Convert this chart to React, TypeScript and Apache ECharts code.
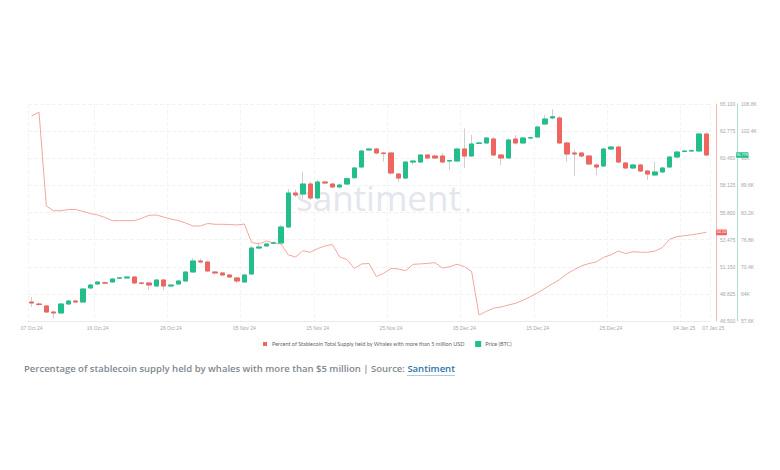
import React, { useEffect, useRef } from "react";
import * as echarts from "echarts";

// BTC daily candles (thousand USD), 07 Oct 2024 .. 07 Jan 2025
const priceOpen = [62.08, 61.61, 61.14, 59.72, 59.49, 61.61, 62.32, 62.08, 65.39, 66.33, 66.6, 66.8, 67.7, 67.75, 67.98, 66.57, 66.57, 65.86, 67.27, 65.86, 66.33, 67.04, 69.16, 71.76, 71.52, 69.16, 68.93, 68.45, 67.75, 66.8, 68.69, 74.82, 75.3, 75.95, 76.0, 79.78, 87.8, 87.56, 89.92, 86.62, 90.4, 89.92, 89.22, 89.92, 91.41, 93.93, 97.95, 98.18, 97.24, 97.24, 92.28, 91.33, 95.11, 95.11, 96.77, 96.53, 96.53, 95.35, 95.35, 98.18, 96.53, 99.5, 99.6, 100.54, 96.77, 96.06, 100.54, 99.6, 100.78, 101.01, 104.08, 105.5, 105.5, 99.6, 97.24, 97.24, 96.53, 94.41, 94.17, 98.18, 98.65, 94.88, 93.7, 94.41, 92.99, 92.05, 92.76, 93.93, 96.29, 97.6, 97.71, 97.71, 101.72];
const priceClose = [61.85, 61.49, 59.72, 59.49, 61.61, 62.32, 62.08, 65.15, 66.09, 66.8, 66.55, 67.51, 67.78, 67.98, 66.57, 66.5, 66.09, 67.27, 65.86, 66.09, 67.04, 69.16, 71.76, 71.52, 69.4, 68.93, 68.45, 67.98, 67.04, 68.45, 74.82, 75.06, 75.77, 76.05, 79.78, 87.8, 87.33, 89.92, 86.62, 90.4, 90.16, 89.22, 89.69, 91.17, 93.7, 97.71, 98.18, 97.24, 97.1, 92.52, 91.33, 95.11, 95.35, 96.77, 96.06, 96.06, 95.11, 95.45, 98.18, 96.53, 99.36, 99.6, 100.78, 96.77, 96.06, 100.31, 99.6, 100.78, 100.85, 103.37, 105.26, 105.8, 99.6, 97.0, 97.0, 96.53, 94.64, 93.93, 98.18, 98.65, 95.11, 93.7, 94.41, 92.99, 92.28, 92.76, 93.7, 96.29, 97.47, 97.71, 97.8, 101.72, 96.77];
const priceLow = [60.9, 61.14, 59.49, 58.31, 59.25, 61.4, 61.8, 61.9, 65.2, 66.1, 66.3, 66.6, 67.5, 67.6, 66.3, 66.2, 64.9, 65.6, 64.9, 65.7, 66.1, 66.8, 69.0, 71.2, 69.1, 68.6, 68.2, 67.7, 66.57, 66.6, 68.5, 74.5, 75.1, 75.7, 75.8, 79.5, 86.8, 86.5, 86.2, 86.2, 89.9, 88.9, 89.0, 89.7, 91.2, 93.7, 97.7, 96.9, 95.2, 92.1, 90.47, 91.0, 94.41, 94.9, 95.8, 95.8, 94.9, 93.23, 95.1, 93.7, 96.3, 99.3, 99.4, 96.5, 94.41, 95.8, 99.2, 99.4, 100.5, 100.8, 103.8, 105.2, 99.3, 95.19, 91.81, 96.2, 94.4, 92.05, 93.9, 97.9, 94.8, 93.4, 93.4, 92.7, 90.87, 91.8, 92.5, 93.7, 96.0, 97.4, 97.5, 97.5, 96.5];
const priceHigh = [63.26, 61.96, 61.38, 59.96, 61.85, 62.6, 62.6, 65.4, 66.4, 67.0, 66.9, 67.8, 68.0, 68.2, 68.2, 66.8, 66.8, 67.5, 67.5, 66.3, 67.3, 69.4, 72.46, 72.4, 71.8, 69.4, 69.2, 68.7, 68.0, 68.8, 75.3, 76.2, 76.0, 76.4, 80.25, 88.75, 88.6, 92.83, 90.5, 90.87, 90.7, 90.2, 89.9, 91.5, 94.0, 98.0, 98.5, 98.5, 97.5, 97.5, 92.5, 95.4, 95.6, 97.0, 97.0, 96.8, 97.24, 95.6, 98.5, 103.07, 101.48, 99.9, 101.0, 101.0, 97.0, 100.6, 101.48, 101.0, 101.1, 103.6, 106.2, 107.55, 106.0, 99.9, 98.0, 97.5, 96.8, 94.7, 98.5, 98.9, 99.0, 95.2, 94.7, 94.7, 93.3, 95.19, 94.0, 96.6, 97.8, 98.0, 98.1, 102.0, 102.0];

// Percent of stablecoin supply held by whales (> 5M USD)
const whalePct = [64.07, 64.41, 56.36, 55.95, 55.95, 56.06, 56.06, 55.89, 55.71, 55.59, 55.37, 55.1, 55.1, 55.1, 55.1, 55.3, 55.56, 55.59, 55.41, 55.24, 55.11, 54.9, 54.64, 54.64, 54.86, 54.79, 54.79, 54.77, 54.73, 54.81, 53.23, 53.1, 53.36, 53.16, 53.1, 52.16, 51.99, 52.53, 52.39, 52.71, 52.93, 53.06, 51.99, 51.77, 51.0, 51.39, 51.43, 50.31, 50.59, 51.0, 50.96, 50.81, 51.36, 51.39, 51.44, 51.5, 51.04, 51.15, 51.36, 51.17, 50.73, 47.01, 47.33, 47.6, 47.7, 47.87, 48.02, 48.28, 48.58, 48.92, 49.3, 49.69, 50.05, 50.55, 50.91, 51.23, 51.43, 51.56, 51.96, 52.17, 52.5, 52.28, 52.44, 52.4, 52.39, 52.5, 52.8, 53.51, 53.73, 53.81, 53.89, 53.99, 54.1];

const PCT_NAME = "Percent of Stablecoin Total Supply held by Whales with more than 5 million USD";
const PRICE_NAME = "Price (BTC)";
const MONTHS = ["Jan", "Feb", "Mar", "Apr", "May", "Jun", "Jul", "Aug", "Sep", "Oct", "Nov", "Dec"];
const categories = priceOpen.map((_, i) => {
  const d = new Date(Date.UTC(2024, 9, 7 + i));
  return `${String(d.getUTCDate()).padStart(2, "0")} ${MONTHS[d.getUTCMonth()]} ${String(d.getUTCFullYear()).slice(2)}`;
});
const labelIdx = [0, 9, 19, 29, 39, 49, 59, 69, 79, 89, 92];

const RED = "#ef6560";
const GREEN = "#22bf8c";
const LINE = "#f3a69d";
const LABEL = "#a3a8ad";

export default function App() {
  const ref = useRef<HTMLDivElement>(null);
  useEffect(() => {
    document.body.style.margin = "0";
    const chart = echarts.init(ref.current!, null, { renderer: "svg" });
    const last = whalePct.length - 1;
    const GRID = { left: 28, right: 70, top: 104, bottom: 149 };
    chart.setOption({
      animation: false,
      grid: GRID,
      legend: {
        left: 258,
        top: 336,
        itemWidth: 4,
        itemHeight: 4,
        itemGap: 10,
        icon: "rect",
        textStyle: { fontSize: 5.5, color: "#666", fontFamily: "Lato" },
        data: [
          { name: PCT_NAME, itemStyle: { color: RED } },
          { name: PRICE_NAME, itemStyle: { color: GREEN } },
        ],
      },
      xAxis: {
        type: "category",
        data: categories,
        boundaryGap: true,
        axisLine: { lineStyle: { color: "#ebebeb" } },
        axisTick: { show: false },
        axisLabel: {
          fontSize: 5,
          color: LABEL,
          margin: 4,
          interval: (i: number) => labelIdx.includes(i),
          formatter: (v: string, i: number) => (i === last ? `{last|${v}}` : v),
          rich: { last: { fontSize: 5, color: LABEL, padding: [0, 0, 0, 14] } },
        },
        splitLine: {
          show: true,
          interval: (i: number) => labelIdx.slice(0, -1).includes(i),
          lineStyle: { color: "#f4f4f4", type: "dashed" },
        },
      },
      yAxis: [
        {
          type: "value",
          position: "right",
          offset: 6,
          min: 46.5,
          max: 65.1,
          interval: 2.325,
          axisLine: { show: true, lineStyle: { color: "#f4b5ae" } },
          axisTick: { show: false },
          axisLabel: { fontSize: 5, color: LABEL, margin: 4, formatter: (v: number) => v.toFixed(3) },
          splitLine: { lineStyle: { color: "#f2f2f2", type: "dashed" } },
        },
        {
          type: "value",
          position: "right",
          offset: 27,
          min: 57.6,
          max: 108.8,
          interval: 6.4,
          axisLine: { show: true, lineStyle: { color: "#aee0c8" } },
          axisTick: { show: false },
          axisLabel: { fontSize: 5, color: LABEL, margin: 4, formatter: (v: number) => `${+v.toFixed(1)}K` },
          splitLine: { show: false },
        },
      ],
      series: [
        {
          name: PCT_NAME,
          type: "line",
          yAxisIndex: 0,
          data: whalePct,
          symbol: "none",
          lineStyle: { color: LINE, width: 1 },
          itemStyle: { color: RED },
          z: 3,
        },
        {
          name: "wicks",
          type: "candlestick",
          yAxisIndex: 1,
          barWidth: 5,
          data: priceOpen.map((o, i) => [o, priceClose[i], priceLow[i], priceHigh[i]]),
          itemStyle: { color: "#cfcfcf", color0: "#cfcfcf", borderColor: "#cfcfcf", borderColor0: "#cfcfcf", borderWidth: 1 },
          z: 4,
        },
        {
          name: PRICE_NAME,
          type: "candlestick",
          yAxisIndex: 1,
          barWidth: 5,
          data: priceOpen.map((o, i) => [o, priceClose[i], Math.min(o, priceClose[i]), Math.max(o, priceClose[i])]),
          itemStyle: { color: GREEN, color0: RED, borderColor: GREEN, borderColor0: RED, borderWidth: 1 },
          z: 5,
        },
      ],
    });

    const yPct = chart.convertToPixel({ yAxisIndex: 0 }, whalePct[last]) as number;
    const yPrice = chart.convertToPixel({ yAxisIndex: 1 }, priceClose[last]) as number;
    const redX = 780 - GRID.right + 6;
    const greenX = 780 - GRID.right + 27;
    chart.setOption({
      graphic: [
        {
          type: "text",
          left: 296,
          top: 180,
          silent: true,
          style: { text: "santiment", fill: "#e3e6ee", font: "400 35px 'Open Sans'" },
          z: 0,
        },
        { type: "circle", shape: { cx: 468, cy: 210, r: 1.8 }, style: { fill: "#e3e6ee" }, z: 0 },
        { type: "rect", shape: { x: redX, y: yPct - 2.8, width: 11, height: 5.6, r: 1 }, style: { fill: RED }, z: 20 },
        {
          type: "text",
          x: redX + 5.5,
          y: yPct,
          style: { text: whalePct[last].toFixed(2), fill: "#fff", fontSize: 3.8, align: "center", verticalAlign: "middle" },
          z: 21,
        },
        { type: "rect", shape: { x: greenX - 1, y: yPrice - 2.8, width: 12.5, height: 5.6, r: 1 }, style: { fill: GREEN }, z: 20 },
        {
          type: "text",
          x: greenX + 5.25,
          y: yPrice,
          style: { text: `${priceClose[last].toFixed(2)}K`, fill: "#fff", fontSize: 3.8, align: "center", verticalAlign: "middle" },
          z: 21,
        },
      ],
    });
    return () => chart.dispose();
  }, []);

  return (
    <div style={{ position: "relative", width: 780, height: 470, background: "#fff" }}>
      <div ref={ref} style={{ position: "absolute", left: 0, top: 0, width: 780, height: 470 }} />
      <div
        style={{
          position: "absolute",
          left: 24,
          top: 362,
          font: "600 9.5px 'Open Sans'",
          color: "#7f8891",
          whiteSpace: "nowrap",
        }}
      >
        Percentage of stablecoin supply held by whales with more than $5 million | Source:{" "}
        <span style={{ color: "#2b73a9", borderBottom: "1px solid #a9cbe4" }}>Santiment</span>
      </div>
    </div>
  );
}
